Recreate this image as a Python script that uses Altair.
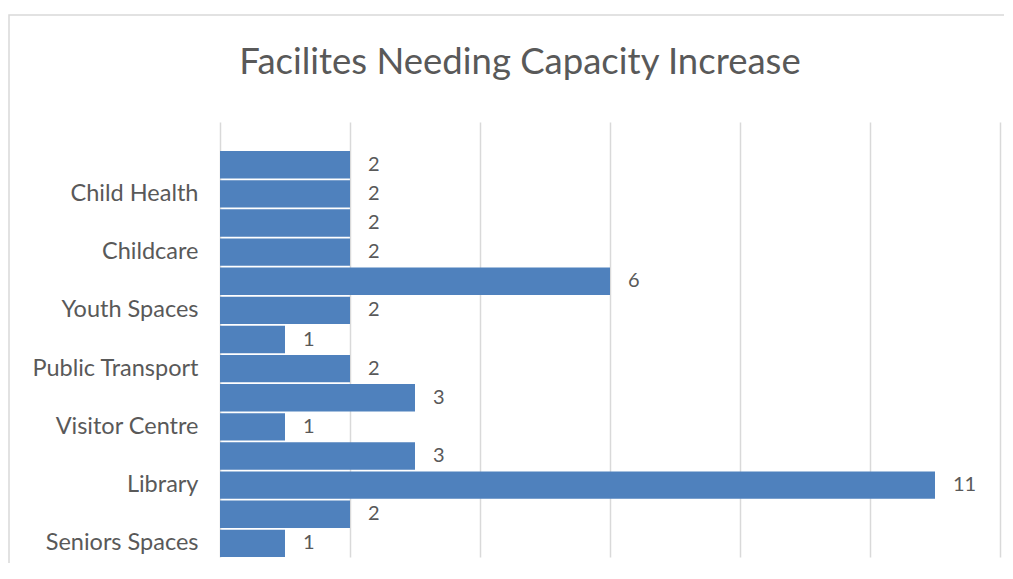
import altair as alt
import pandas as pd

categories = [
    "Hidden 1", "Child Health", "Hidden 2", "Childcare", "Hidden 3", "Youth Spaces",
    "Hidden 4", "Public Transport", "Hidden 5", "Visitor Centre", "Hidden 6",
    "Library", "Hidden 7", "Seniors Spaces",
]
values = [2, 2, 2, 2, 6, 2, 1, 2, 3, 1, 3, 11, 2, 1]
shown_labels = ["Child Health", "Childcare", "Youth Spaces", "Public Transport",
                "Visitor Centre", "Library", "Seniors Spaces"]
x_ticks = [0, 2, 4, 6, 8, 10, 12]
title_text = ["Facilites Needing Capacity Increase"]

df = pd.DataFrame({"category": categories, "value": values})
domain = [" "] + categories

FONT = "Lato"
GREY = "#595959"

y_enc = alt.Y(
    "category:N",
    sort=domain,
    scale=alt.Scale(domain=domain, paddingInner=0.06, paddingOuter=0),
    axis=alt.Axis(
        title=None, ticks=False, domain=False, grid=False,
        labelExpr="indexof(" + str(shown_labels) + ", datum.label) >= 0 ? datum.label : ''",
        labelFont=FONT, labelFontSize=23.5, labelColor=GREY, labelPadding=22,
        labelLimit=300,
    ),
)
x_enc = alt.X(
    "value:Q",
    scale=alt.Scale(domain=[0, 12], nice=False),
    axis=alt.Axis(
        title=None, values=x_ticks, labels=False, ticks=False, domain=False,
        grid=True, gridColor="#d9d9d9", gridWidth=1.5,
    ),
)

bars = alt.Chart(df).mark_bar(color="#4f81bd").encode(x=x_enc, y=y_enc)
text = alt.Chart(df).mark_text(
    align="left", baseline="middle", dx=18, font=FONT, fontSize=20, color=GREY
).encode(x=x_enc, y=y_enc, text="value:Q")

border = alt.Chart(pd.DataFrame({"a": [0]})).mark_rect(
    fill=None, stroke="#d9d9d9", strokeWidth=1.5, clip=False
).encode(
    x=alt.value(-211), x2=alt.value(900), y=alt.value(-107), y2=alt.value(600)
)

title = alt.Chart(pd.DataFrame({"t": title_text})).mark_text(
    font=FONT, fontSize=36.5, color=GREY, align="center", baseline="middle", clip=False
).encode(text="t:N", x=alt.value(300), y=alt.value(-59))

chart = alt.layer(border, bars, text, title).properties(
    width=780,
    height=435,
    autosize=alt.AutoSizeParams(type="none"),
    padding={"left": 212, "top": 114, "right": 4, "bottom": 6},
).configure_view(stroke=None)

chart.save("out.html", embed_options={"renderer": "svg", "actions": False})
